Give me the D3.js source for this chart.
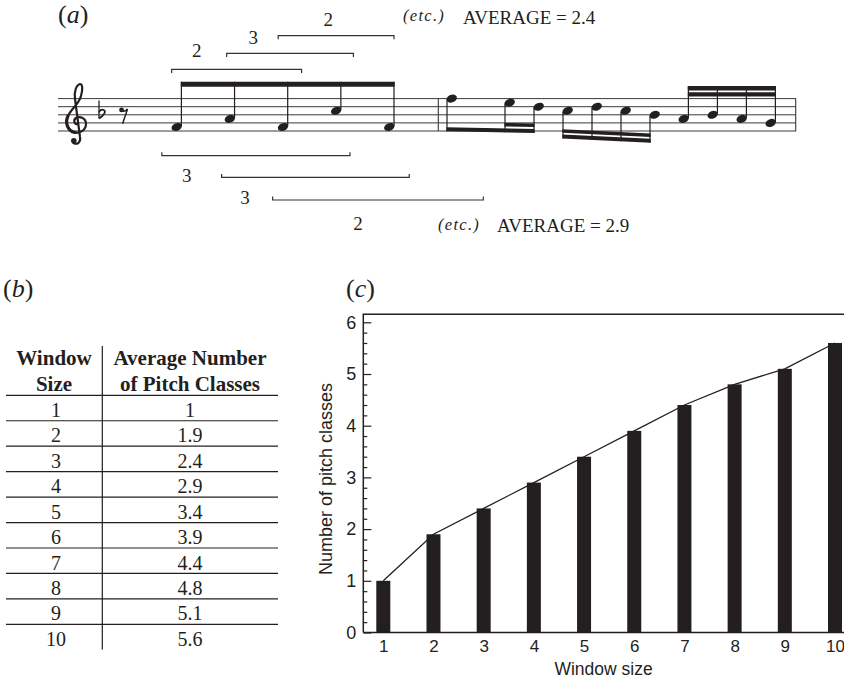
<!DOCTYPE html>
<html><head><meta charset="utf-8">
<script src="https://cdn.jsdelivr.net/npm/d3@7"></script>
<style>body{margin:0;background:#fff} svg{display:block}</style>
</head><body>
<svg id="fig" width="844" height="679"></svg>
<script>
// ---------------- data ----------------
const windowSizes = [1, 2, 3, 4, 5, 6, 7, 8, 9, 10];
const avgPitchClasses = [1, 1.9, 2.4, 2.9, 3.4, 3.9, 4.4, 4.8, 5.1, 5.6];
const yTicks = [0, 1, 2, 3, 4, 5, 6];
const headerCol1 = ["Window", "Size"];
const headerCol2 = ["Average Number", "of Pitch Classes"];
const xAxisTitle = "Window size";
const yAxisTitle = "Number of pitch classes";

// melody: onsets in sixteenths (bar 2 starts at 12), staff steps (0 = bottom line E4)
const noteOnsets = [2, 4, 6, 8, 10, 12, 14, 15, 16, 17, 18, 19, 20, 21, 22, 23];
const noteSteps  = [1, 3, 1, 5, 1, 8, 7, 6, 5, 6, 5, 4, 3, 4, 3, 2];
const noteGroups = [0, 0, 0, 0, 0, 1, 1, 1, 2, 2, 2, 2, 3, 3, 3, 3];
const groupStem  = ["up", "down", "down", "up"];
const restOnset = 0;

// sliding windows (bracket extents in sixteenth-onset units)
const bracketStarts = [1.81, 3.88, 5.82, 1.44, 3.69, 5.61];
const bracketEnds   = [6.70, 8.65, 10.15, 8.52, 10.64, 13.09];
const bracketCounts = [2, 3, 2, 3, 3, 2];
const bracketLabelAt = [2.75, 4.88, 7.70, 2.38, 4.57, 8.82];
const bracketSide = ["above", "above", "above", "below", "below", "below"];
const bracketLevel = [0, 1, 2, 0, 1, 2];
const windowShown = [3, 4]; // window sizes illustrated above / below

// ---------------- drawing ----------------
const ink = "#231f20";
const svg = d3.select("#fig");
const serif = "'Liberation Serif','Times New Roman',serif";
const sans = "'Liberation Sans',Arial,Helvetica,sans-serif";

function panelLabel(px, py, letter) {
  const t = svg.append("text").attr("x", px).attr("y", py)
    .attr("font-family", serif).attr("font-size", 26).attr("fill", ink);
  t.append("tspan").text("(");
  t.append("tspan").attr("font-style", "italic").text(letter);
  t.append("tspan").text(")");
}
panelLabel(58, 23, "a");
panelLabel(3, 297, "b");
panelLabel(346, 297, "c");

// ===== (a) music =====
const xs = d3.scaleLinear().domain([2, 10, 12, 23]).range([176.7, 389.3, 451.7, 770.7]);
const ys = d3.scaleLinear().domain([0, 8]).range([131, 98.6]);
const music = svg.append("g");

music.selectAll("line.staff").data(d3.range(0, 9, 2)).join("line")
  .attr("x1", 58).attr("x2", 796).attr("y1", d => ys(d)).attr("y2", d => ys(d))
  .attr("stroke", "#3a3a3a").attr("stroke-width", 1);
music.selectAll("line.bar").data([438.3, 795.7]).join("line")
  .attr("x1", d => d).attr("x2", d => d).attr("y1", ys(8)).attr("y2", ys(0))
  .attr("stroke", "#3a3a3a").attr("stroke-width", 1.1);

// clef
music.append("path")
  .attr("d", "M78.5 124 C74 125,73 120,76 118 C80 116,86 118,86 124 C86 130,80 133.5,75 132.5 C68 131,64.5 123,68 116 C71 109,79 104,81 96 C83 89,82.5 84,80 84 C76 85,74 92,75 99 L80 137 C81 142.5,77 145,73.5 143")
  .attr("fill", "none").attr("stroke", ink).attr("stroke-width", 2.2).attr("stroke-linecap", "round");
music.append("path")
  .attr("d", "M75 132.5 C68 131,64.5 123,68 116")
  .attr("fill", "none").attr("stroke", ink).attr("stroke-width", 3.2).attr("stroke-linecap", "round");
music.append("circle").attr("cx", 73.8).attr("cy", 140.8).attr("r", 2.8).attr("fill", ink);
// flat
music.append("path").attr("d", "M99 100.5 V118.5").attr("stroke", ink).attr("stroke-width", 1.3);
music.append("path").attr("d", "M99 118.5 C104 115.5,107 110.8,103.2 109.8 C101.2 109.3,99.6 111,99 112.5")
  .attr("fill", "none").attr("stroke", ink).attr("stroke-width", 1.8);
// eighth rest
const rx0 = xs(restOnset);
music.append("circle").attr("cx", rx0 - 2).attr("cy", ys(5.2)).attr("r", 2.4).attr("fill", ink);
music.append("path")
  .attr("d", `M${rx0 - 2.5} ${ys(5.0)} Q${rx0 + 1} ${ys(4.6)},${rx0 + 4} ${ys(5.4)} L${rx0 - 1} ${ys(1.8)}`)
  .attr("fill", "none").attr("stroke", ink).attr("stroke-width", 1.5);

const notes = noteOnsets.map((o, i) => ({ x: xs(o), y: ys(noteSteps[i]), g: noteGroups[i], dir: groupStem[noteGroups[i]] }));
const stemX = n => n.dir === "up" ? n.x + 4.7 : n.x - 4.7;
const beamSpec = [
  { g: 0, from: 0, to: 4, yl: 81.7, yr: 81.7, t: 5 },
  { g: 1, from: 5, to: 7, yl: 127.2, yr: 128.9, t: 4 },
  { g: 1, from: 6, to: 7, yl: 122.0, yr: 123.4, t: 3.6, sub: true },
  { g: 2, from: 8, to: 11, yl: 134.6, yr: 138.8, t: 3.9 },
  { g: 2, from: 8, to: 11, yl: 129.2, yr: 133.4, t: 3.6, sub: true },
  { g: 3, from: 12, to: 15, yl: 86, yr: 86, t: 4.6 },
  { g: 3, from: 12, to: 15, yl: 92.2, yr: 92.2, t: 4.4, sub: true }
];
function primaryY(g, px) {
  const b = beamSpec.find(s => s.g === g && !s.sub);
  const x1 = stemX(notes[b.from]), x2 = stemX(notes[b.to]);
  const yt = b.yl + (b.yr - b.yl) * (px - x1) / (x2 - x1);
  return groupStem[g] === "up" ? yt : yt + b.t;
}
music.selectAll("line.stem").data(notes).join("line")
  .attr("x1", stemX).attr("x2", stemX)
  .attr("y1", n => n.dir === "up" ? n.y - 1 : n.y + 1)
  .attr("y2", n => primaryY(n.g, stemX(n)))
  .attr("stroke", ink).attr("stroke-width", 1.2);
music.selectAll("path.beam").data(beamSpec).join("path")
  .attr("d", b => {
    const p = beamSpec.find(s => s.g === b.g && !s.sub);
    const X1 = stemX(notes[p.from]), X2 = stemX(notes[p.to]);
    const x1 = stemX(notes[b.from]) - 0.6, x2 = stemX(notes[b.to]) + 0.6;
    const f = v => b.yl + (b.yr - b.yl) * (v - X1) / (X2 - X1);
    return `M${x1} ${f(x1)} L${x2} ${f(x2)} L${x2} ${f(x2) + b.t} L${x1} ${f(x1) + b.t} Z`;
  })
  .attr("fill", ink);
music.selectAll("ellipse.head").data(notes).join("ellipse")
  .attr("cx", 0).attr("cy", 0).attr("rx", 5.4).attr("ry", 3.8)
  .attr("transform", n => `translate(${n.x},${n.y}) rotate(-22)`)
  .attr("fill", ink);

// window brackets
const aboveY = [69.3, 53.3, 35.7], aboveLabelY = [57, 43.5, 25.5];
const belowY = [155.7, 177.3, 200], belowLabelY = [182, 203.5, 230];
const br = bracketStarts.map((s, i) => ({
  x1: xs(s), x2: xs(bracketEnds[i]), lab: bracketCounts[i], lx: xs(bracketLabelAt[i]),
  up: bracketSide[i] === "above", lev: bracketLevel[i]
}));
music.selectAll("path.br").data(br).join("path")
  .attr("d", d => {
    const yy = d.up ? aboveY[d.lev] : belowY[d.lev];
    const t = d.up ? 3.6 : -3.4;
    return `M${d.x1} ${yy + t} V${yy} H${d.x2} V${yy + t}`;
  })
  .attr("fill", "none").attr("stroke", "#333").attr("stroke-width", 1.2);
music.selectAll("text.bl").data(br).join("text")
  .attr("x", d => d.lx).attr("y", d => d.up ? aboveLabelY[d.lev] : belowLabelY[d.lev])
  .attr("text-anchor", "middle").attr("font-family", serif).attr("font-size", 19).attr("fill", ink)
  .text(d => d.lab);

const avgText = [
  { etcX: 403, etcY: 20.5, x: 463, y: 24, v: avgPitchClasses[windowSizes.indexOf(windowShown[0])] },
  { etcX: 438, etcY: 230, x: 497, y: 231.5, v: avgPitchClasses[windowSizes.indexOf(windowShown[1])] }
];
avgText.forEach(a => {
  music.append("text").attr("x", a.etcX).attr("y", a.etcY).attr("font-family", serif)
    .attr("font-size", 16.5).attr("font-style", "italic").attr("letter-spacing", 1.3).attr("fill", ink).text("(etc.)");
  music.append("text").attr("x", a.x).attr("y", a.y).attr("font-family", serif)
    .attr("font-size", 19).attr("fill", ink).text("AVERAGE = " + d3.format(".1f")(a.v));
});

// ===== (b) table =====
const tbl = svg.append("g").attr("fill", ink);
const colX = [54, 190];
const rowLine = d3.scaleLinear().domain([0, 10]).range([395.3, 649.8]);
[headerCol1, headerCol2].forEach((h, c) => {
  h.forEach((line, k) => {
    tbl.append("text").attr("x", colX[c]).attr("y", 365 + k * 25.5)
      .attr("text-anchor", "middle").attr("font-family", serif).attr("font-weight", "bold")
      .attr("font-size", 21).text(line);
  });
});
tbl.selectAll("line.h").data(d3.range(0, 10)).join("line")
  .attr("x1", 6).attr("x2", 278).attr("y1", d => rowLine(d)).attr("y2", d => rowLine(d))
  .attr("stroke", ink).attr("stroke-width", 1.2);
tbl.append("line").attr("x1", 102.3).attr("x2", 102.3).attr("y1", 346).attr("y2", 649.5)
  .attr("stroke", ink).attr("stroke-width", 1.2);
const rows = windowSizes.map((w, i) => ({ w, v: avgPitchClasses[i], i }));
tbl.selectAll("text.c1").data(rows).join("text")
  .attr("x", colX[0] + 2).attr("y", d => rowLine(d.i) + 21.5).attr("text-anchor", "middle")
  .attr("font-family", serif).attr("font-size", 20).text(d => d.w);
tbl.selectAll("text.c2").data(rows).join("text")
  .attr("x", colX[1]).attr("y", d => rowLine(d.i) + 21.5).attr("text-anchor", "middle")
  .attr("font-family", serif).attr("font-size", 20).text(d => d3.format("~g")(d.v));

// ===== (c) chart =====
const x = d3.scaleLinear().domain([1, 10]).range([383.3, 835]);
const y = d3.scaleLinear().domain([0, 6]).range([632.5, 322.3]);
const plotLeft = 363.3, plotTop = 314.3;
const chart = svg.append("g");

chart.selectAll("rect.bar").data(rows).join("rect")
  .attr("x", d => x(d.w) - 7).attr("width", 14)
  .attr("y", d => y(d.v)).attr("height", d => y(0) - y(d.v))
  .attr("fill", ink);
chart.append("path").datum(rows)
  .attr("d", d3.line().x(d => x(d.w)).y(d => y(d.v)))
  .attr("fill", "none").attr("stroke", ink).attr("stroke-width", 1.3);

chart.append("path").attr("d", `M${plotLeft} ${y(0)} V${plotTop} H850 M${plotLeft} ${y(0)} H850`)
  .attr("fill", "none").attr("stroke", ink).attr("stroke-width", 1.5);

const yAxis = chart.append("g").attr("transform", `translate(${plotLeft},0)`)
  .call(d3.axisLeft(y).tickValues(yTicks).tickSize(-8).tickPadding(7).tickFormat(d3.format("d")));
const minor = d3.range(0, 30).map(k => k * 0.2).filter(v => Math.abs(v - Math.round(v)) > 1e-6);
chart.append("g").attr("transform", `translate(${plotLeft},0)`)
  .call(d3.axisLeft(y).tickValues(minor).tickSize(-4).tickFormat(""));
chart.selectAll(".domain").remove();
chart.selectAll(".tick line").attr("stroke", ink).attr("stroke-width", 1.2);
yAxis.selectAll("text").attr("font-family", sans).attr("font-size", 18).attr("fill", ink);

const xAxis = chart.append("g").attr("transform", `translate(0,${y(0)})`)
  .call(d3.axisBottom(x).tickValues(windowSizes).tickSize(0).tickFormat(d3.format("d")));
xAxis.select(".domain").remove();
xAxis.selectAll("text").attr("dy", null).attr("y", 19)
  .attr("font-family", sans).attr("font-size", 17).attr("fill", ink);

chart.append("text").attr("x", 603.6).attr("y", 675).attr("text-anchor", "middle")
  .attr("font-family", sans).attr("font-size", 17.5).attr("fill", ink).text(xAxisTitle);
chart.append("text").attr("transform", "translate(326,479) rotate(-90)")
  .attr("text-anchor", "middle").attr("dominant-baseline", "central")
  .attr("font-family", sans).attr("font-size", 18).attr("fill", ink).text(yAxisTitle);
</script>
</body></html>
